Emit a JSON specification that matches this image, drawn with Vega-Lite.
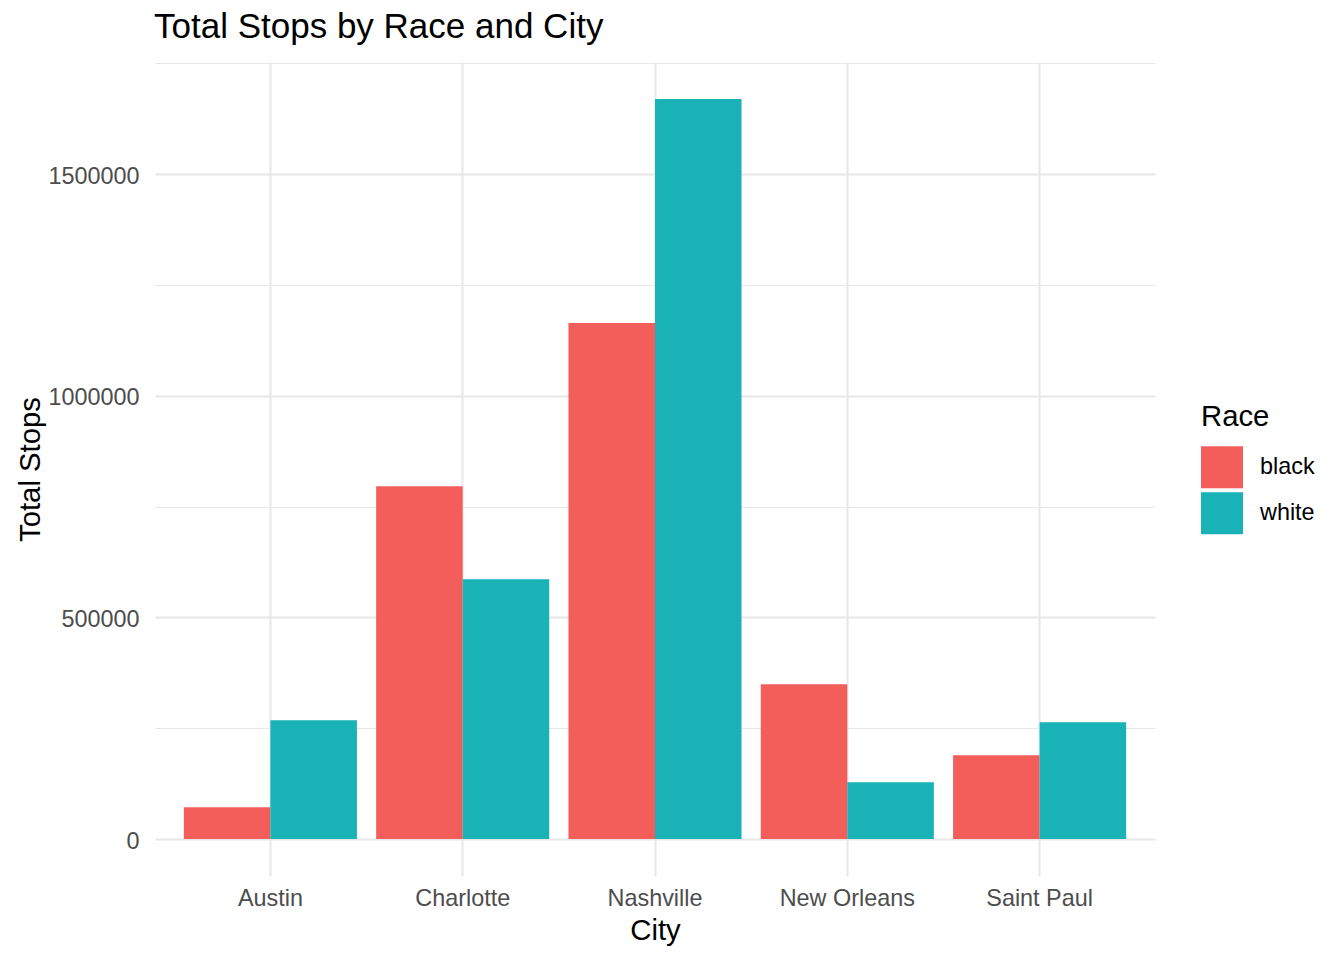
{
  "$schema": "https://vega.github.io/schema/vega-lite/v6.json",
  "autosize": {"type": "none"},
  "width": 1000,
  "height": 814,
  "padding": {"left": 155, "top": 62, "right": 189, "bottom": 84},
  "background": "white",
  "title": {
    "text": "Total Stops by Race and City",
    "anchor": "start",
    "frame": "group",
    "font": "Liberation Sans",
    "fontSize": 35,
    "fontWeight": "normal",
    "color": "black",
    "baseline": "alphabetic",
    "offset": 25,
    "dx": -1,
    "dy": 36
  },
  "data": {
    "values": [
      {"city": "Austin", "race": "black", "stops": 71500},
      {"city": "Austin", "race": "white", "stops": 267900},
      {"city": "Charlotte", "race": "black", "stops": 796000},
      {"city": "Charlotte", "race": "white", "stops": 586100},
      {"city": "Nashville", "race": "black", "stops": 1163800},
      {"city": "Nashville", "race": "white", "stops": 1669300},
      {"city": "New Orleans", "race": "black", "stops": 349100},
      {"city": "New Orleans", "race": "white", "stops": 128000},
      {"city": "Saint Paul", "race": "black", "stops": 188900},
      {"city": "Saint Paul", "race": "white", "stops": 263400}
    ]
  },
  "mark": {"type": "bar", "strokeWidth": 0},
  "encoding": {
    "x": {
      "field": "city",
      "type": "nominal",
      "sort": ["Austin", "Charlotte", "Nashville", "New Orleans", "Saint Paul"],
      "scale": {"paddingInner": 0.1, "paddingOuter": 0.15},
      "axis": {
        "title": "City",
        "grid": true,
        "gridColor": "#E8E8E8",
        "gridWidth": 2,
        "bandPosition": 0.5,
        "ticks": false,
        "tickSize": 0,
        "domain": false,
        "labelAngle": 0,
        "labelBaseline": "alphabetic",
        "labelPadding": 29,
        "labelFont": "Liberation Sans",
        "labelFontSize": 23.4,
        "labelColor": "#4D4D4D",
        "titleFont": "Liberation Sans",
        "titleFontSize": 29.3,
        "titleFontWeight": "normal",
        "titleColor": "black",
        "titleBaseline": "alphabetic",
        "titleX": 500,
        "titleY": 63,
        "titleAlign": "center"
      }
    },
    "xOffset": {
      "field": "race",
      "type": "nominal",
      "scale": {"paddingInner": 0, "paddingOuter": 0}
    },
    "y": {
      "field": "stops",
      "type": "quantitative",
      "scale": {"domain": [-83465, 1752765], "nice": false, "zero": false},
      "axis": {
        "title": "Total Stops",
        "values": [0, 250000, 500000, 750000, 1000000, 1250000, 1500000, 1750000],
        "format": "d",
        "labelExpr": "datum.value % 500000 === 0 ? datum.label : ''",
        "grid": true,
        "gridColor": "#E8E8E8",
        "gridWidth": {"condition": {"test": "datum.value % 500000 === 0", "value": 2}, "value": 1},
        "ticks": false,
        "tickSize": 0,
        "domain": false,
        "labelPadding": 16,
        "labelBaseline": "alphabetic",
        "labelOffset": 9,
        "labelFont": "Liberation Sans",
        "labelFontSize": 23.4,
        "labelColor": "#4D4D4D",
        "titleFont": "Liberation Sans",
        "titleFontSize": 29.3,
        "titleFontWeight": "normal",
        "titleColor": "black",
        "titleAngle": 270,
        "titleAlign": "center",
        "titleBaseline": "alphabetic",
        "titleX": -116,
        "titleY": 407
      }
    },
    "color": {
      "field": "race",
      "type": "nominal",
      "scale": {"domain": ["black", "white"], "range": ["#F35E5A", "#19B2B6"]},
      "legend": {
        "title": "Race",
        "orient": "none",
        "legendX": 1046,
        "legendY": 341,
        "padding": 0,
        "titleFont": "Liberation Sans",
        "titleFontSize": 29.3,
        "titleFontWeight": "normal",
        "titleColor": "black",
        "titlePadding": 14,
        "labelFont": "Liberation Sans",
        "labelFontSize": 23.4,
        "labelColor": "black",
        "labelOffset": 17,
        "symbolType": "square",
        "symbolSize": 1764,
        "symbolStrokeWidth": 0,
        "symbolOpacity": 1,
        "rowPadding": 4
      }
    }
  },
  "config": {
    "view": {"stroke": null}
  }
}
